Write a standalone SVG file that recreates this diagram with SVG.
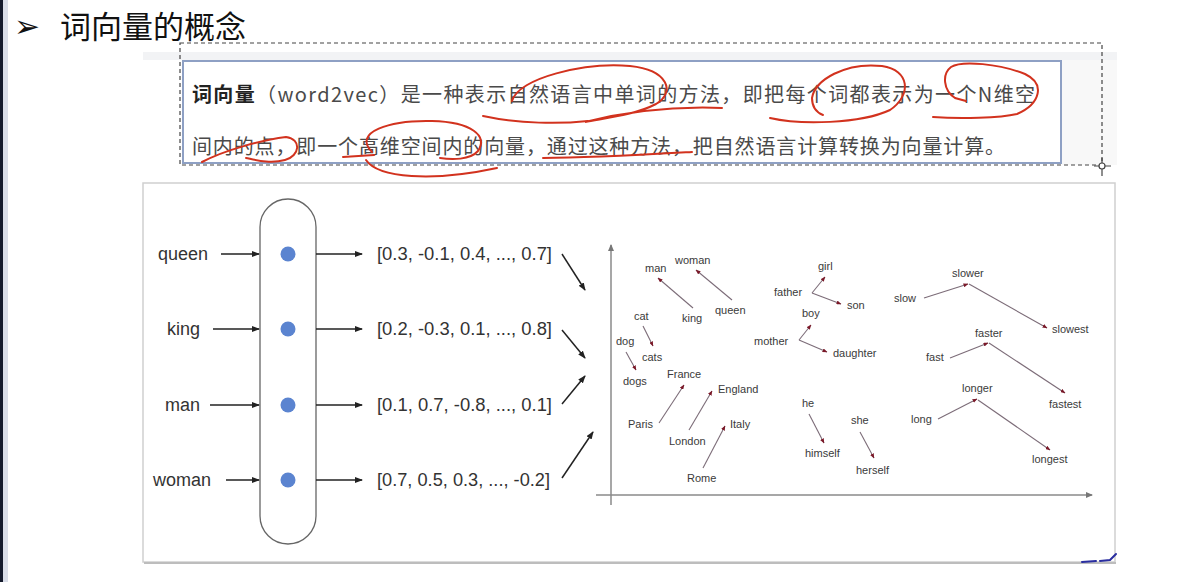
<svg xmlns="http://www.w3.org/2000/svg" width="1186" height="582" viewBox="0 0 1186 582">
<style>
.title{font-family:"Noto Sans CJK SC","Noto Sans",sans-serif;font-size:31px;fill:#111}
.desc{font-family:"Noto Sans CJK SC","Noto Sans",sans-serif;font-size:20px;fill:#4a4a4a}
.lbl{font-family:"Liberation Sans","Noto Sans",sans-serif;font-size:18px;fill:#333}
.w{font-family:"Liberation Sans","Noto Sans",sans-serif;font-size:11px;fill:#3a3a3a}
.arr{stroke:#222;stroke-width:1.5;fill:none}
.sc{stroke:#7c6c78;stroke-width:1.1;fill:none}
.red{stroke:#d2321e;stroke-width:2;fill:none;stroke-linecap:round}
.axis{stroke:#8a8a8a;stroke-width:1.5;fill:none}
.dot{fill:#5b84d0}
</style>
<defs>
<marker id="mb" markerUnits="userSpaceOnUse" markerWidth="8" markerHeight="6" refX="7" refY="3" orient="auto"><path d="M0,0 L8,3 L0,6 z" fill="#222"/></marker>
<marker id="mr" markerUnits="userSpaceOnUse" markerWidth="5" markerHeight="4" refX="4.5" refY="2" orient="auto"><path d="M0,0 L5,2 L0,4 z" fill="#7a1828"/></marker>
<marker id="ma" markerUnits="userSpaceOnUse" markerWidth="7" markerHeight="6" refX="6" refY="3" orient="auto"><path d="M0,0 L7,3 L0,6 z" fill="#777"/></marker>
</defs>
<rect width="1186" height="582" fill="#fff"/>
<rect x="0" y="0" width="3" height="582" fill="#141a2c"/>
<rect x="3" y="0" width="5" height="582" fill="#d9dde8"/>

<g id="title">
<text x="14" y="37" font-family="DejaVu Sans,sans-serif" font-size="31" fill="#111">➢</text>
<text class="title" x="60" y="38">词向量的概念</text>
</g>

<rect x="143" y="52" width="974" height="8" fill="#f2f3f5"/>
<rect x="1062" y="60" width="55" height="105" fill="#f8f8f8"/>

<g id="definition">
<rect x="183" y="61" width="878" height="102" fill="#fff" stroke="#8ea0c4" stroke-width="2"/>
<text class="desc" x="192" y="102" textLength="843" lengthAdjust="spacing"><tspan font-weight="bold" fill="#222">词向量</tspan>（word2vec）是一种表示自然语言中单词的方法，即把每个词都表示为一个N维空</text>
<text class="desc" x="192" y="154" textLength="813" lengthAdjust="spacing">间内的点，即一个高维空间内的向量，通过这种方法，把自然语言计算转换为向量计算。</text>
</g>

<g id="selection" stroke="#444" stroke-width="1.2" stroke-dasharray="4,3" fill="none">
<path d="M180 43 H1102 V165 H180 Z"/>
</g>
<g id="handle" stroke="#444" stroke-width="1.2" fill="#fff">
<path d="M1102 158 V176 M1094 166 H1111" fill="none"/>
<circle cx="1102" cy="166" r="3"/>
</g>

<g id="annotations">
<path class="red" d="M483 116 C520 124 560 124 588 121"/>
<path class="red" d="M512 101 C518 78 585 62 630 66 C668 70 676 92 656 104 C635 115 605 118 585 122 C625 112 670 106 722 108"/>
<path class="red" d="M770 118 C800 125 860 124 890 110 C912 95 910 70 882 66 C845 62 815 80 812 98 C812 108 818 113 823 115"/>
<path class="red" d="M933 117 C960 119 1000 118 1017 114 C1040 104 1046 84 1025 74 C1000 64 962 60 951 67 C942 74 943 90 955 98 L966 101"/>
<path class="red" d="M202 162 C225 150 262 140 286 137 C302 139 300 156 285 160 C270 164 256 160 246 158"/>
<path class="red" d="M343 157 L374 155"/>
<path class="red" d="M372 152 C352 132 390 120 432 121 C472 122 488 136 478 151 C470 160 452 160 440 158"/>
<path class="red" d="M366 160 C378 178 432 182 497 168"/>
<path class="red" d="M543 158 C590 158 640 155 692 152"/>
</g>

<g id="panel">
<rect x="143" y="183" width="972" height="379" fill="#fff" stroke="#cfcfcf" stroke-width="1.5"/>
<path d="M144 563 H1116" stroke="#bdbdbd" stroke-width="2"/>
</g>

<g id="encoder">
<rect x="260" y="199" width="56" height="345" rx="28" ry="28" fill="#fff" stroke="#666" stroke-width="1.3"/>
</g>
<g id="node-queen"><text class="lbl" x="158" y="260">queen</text><circle class="dot" cx="288" cy="254" r="7.5"/><text class="lbl" x="377" y="260" textLength="175" lengthAdjust="spacingAndGlyphs">[0.3, -0.1, 0.4, ..., 0.7]</text></g>
<g id="node-king"><text class="lbl" x="167" y="335">king</text><circle class="dot" cx="288" cy="329" r="7.5"/><text class="lbl" x="377" y="335" textLength="175" lengthAdjust="spacingAndGlyphs">[0.2, -0.3, 0.1, ..., 0.8]</text></g>
<g id="node-man"><text class="lbl" x="165" y="411">man</text><circle class="dot" cx="288" cy="405" r="7.5"/><text class="lbl" x="377" y="411" textLength="175" lengthAdjust="spacingAndGlyphs">[0.1, 0.7, -0.8, ..., 0.1]</text></g>
<g id="node-woman"><text class="lbl" x="153" y="486">woman</text><circle class="dot" cx="288" cy="480" r="7.5"/><text class="lbl" x="377" y="486" textLength="173" lengthAdjust="spacingAndGlyphs">[0.7, 0.5, 0.3, ..., -0.2]</text></g>

<g id="plot">
<path class="axis" d="M611 505 V245" marker-end="url(#ma)"/>
<path class="axis" d="M596 495 H1092" marker-end="url(#ma)"/>
<text class="w" x="645" y="272">man</text>
<text class="w" x="675" y="264">woman</text>
<text class="w" x="682" y="322">king</text>
<text class="w" x="715" y="314">queen</text>
<text class="w" x="634" y="320">cat</text>
<text class="w" x="616" y="345">dog</text>
<text class="w" x="642" y="361">cats</text>
<text class="w" x="623" y="385">dogs</text>
<text class="w" x="667" y="378">France</text>
<text class="w" x="718" y="393">England</text>
<text class="w" x="628" y="428">Paris</text>
<text class="w" x="669" y="445">London</text>
<text class="w" x="730" y="428">Italy</text>
<text class="w" x="687" y="482">Rome</text>
<text class="w" x="818" y="270">girl</text>
<text class="w" x="774" y="296">father</text>
<text class="w" x="847" y="309">son</text>
<text class="w" x="802" y="317">boy</text>
<text class="w" x="754" y="345">mother</text>
<text class="w" x="833" y="357">daughter</text>
<text class="w" x="802" y="407">he</text>
<text class="w" x="805" y="457">himself</text>
<text class="w" x="851" y="424">she</text>
<text class="w" x="856" y="474">herself</text>
<text class="w" x="952" y="277">slower</text>
<text class="w" x="894" y="302">slow</text>
<text class="w" x="1052" y="333">slowest</text>
<text class="w" x="975" y="337">faster</text>
<text class="w" x="926" y="361">fast</text>
<text class="w" x="1049" y="408">fastest</text>
<text class="w" x="962" y="392">longer</text>
<text class="w" x="911" y="423">long</text>
<text class="w" x="1032" y="463">longest</text>
</g>

<g id="connectors">
<path class="arr" d="M221 254 H259" marker-end="url(#mb)"/>
<path class="arr" d="M213 329 H259" marker-end="url(#mb)"/>
<path class="arr" d="M210 405 H259" marker-end="url(#mb)"/>
<path class="arr" d="M226 480 H259" marker-end="url(#mb)"/>
<path class="arr" d="M316 254 H362" marker-end="url(#mb)"/>
<path class="arr" d="M316 329 H362" marker-end="url(#mb)"/>
<path class="arr" d="M316 405 H362" marker-end="url(#mb)"/>
<path class="arr" d="M316 480 H362" marker-end="url(#mb)"/>
<path class="arr" d="M562 254 L585 290" marker-end="url(#mb)"/>
<path class="arr" d="M562 330 L585 358" marker-end="url(#mb)"/>
<path class="arr" d="M562 404 L585 376" marker-end="url(#mb)"/>
<path class="arr" d="M562 478 L593 432" marker-end="url(#mb)"/>

<path class="sc" d="M693 308 L658 278" marker-end="url(#mr)"/>
<path class="sc" d="M732 300 L696 270" marker-end="url(#mr)"/>
<path class="sc" d="M643 326 L653 346" marker-end="url(#mr)"/>
<path class="sc" d="M626 352 L636 370" marker-end="url(#mr)"/>
<path class="sc" d="M659 423 L684 385" marker-end="url(#mr)"/>
<path class="sc" d="M689 430 L712 391" marker-end="url(#mr)"/>
<path class="sc" d="M703 468 L725 426" marker-end="url(#mr)"/>
<path class="sc" d="M812 293 L825 277" marker-end="url(#mr)"/>
<path class="sc" d="M812 293 L841 304" marker-end="url(#mr)"/>
<path class="sc" d="M799 340 L811 325" marker-end="url(#mr)"/>
<path class="sc" d="M799 340 L827 352" marker-end="url(#mr)"/>
<path class="sc" d="M809 414 L824 443" marker-end="url(#mr)"/>
<path class="sc" d="M860 432 L874 458" marker-end="url(#mr)"/>
<path class="sc" d="M924 298 L968 284" marker-end="url(#mr)"/>
<path class="sc" d="M969 284 L1047 328" marker-end="url(#mr)"/>
<path class="sc" d="M950 358 L988 343" marker-end="url(#mr)"/>
<path class="sc" d="M989 343 L1065 393" marker-end="url(#mr)"/>
<path class="sc" d="M938 419 L977 399" marker-end="url(#mr)"/>
<path class="sc" d="M978 400 L1050 450" marker-end="url(#mr)"/>
</g>

<g id="scribble" stroke="#2a2ea0" stroke-width="2" fill="none" stroke-linecap="round">
<path d="M1082 562 L1096 561 M1100 561 L1110 560 L1116 554"/>
</g>
</svg>
